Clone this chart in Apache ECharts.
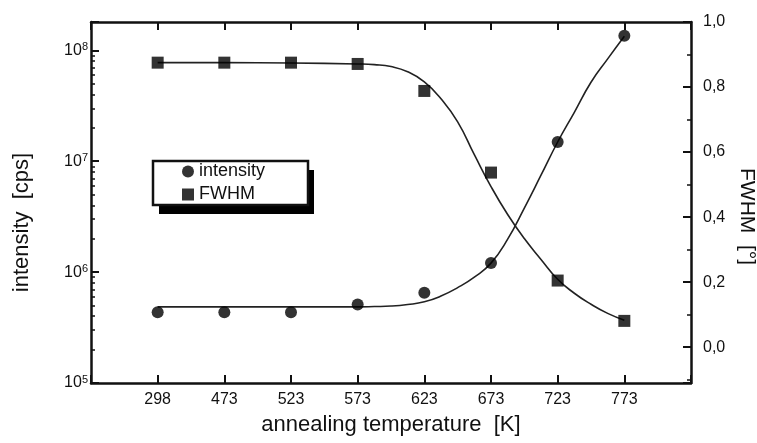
<!DOCTYPE html>
<html>
<head>
<meta charset="utf-8">
<style>
html,body{margin:0;padding:0;background:#fff;}
#chart{width:757px;height:443px;}
</style>
<script src="https://cdn.jsdelivr.net/npm/echarts@6/dist/echarts.min.js"></script>
</head>
<body>
<div id="chart"></div>
<script>
// ---- data ----
const temps = ['298', '473', '523', '573', '623', '673', '723', '773'];
const intensity = [4.35e5, 4.35e5, 4.35e5, 5.1e5, 6.5e5, 1.21e6, 1.49e7, 1.35e8];
const fwhm = [0.875, 0.875, 0.875, 0.871, 0.788, 0.537, 0.205, 0.081];

// fitted curves (x = category position 1..8)
const intensityFitX = [1, 2, 3, 4, 4.25, 4.5, 4.75, 5, 5.25, 5.5, 5.75, 6, 6.25, 6.5, 6.75, 7, 7.25, 7.5, 7.75, 8];
const intensityFitY = [4.86e5, 4.86e5, 4.86e5, 4.86e5, 4.89e5, 4.94e5, 5.10e5, 5.40e5, 6.08e5, 7.24e5, 9.01e5, 1.205e6, 1.98e6, 3.78e6, 7.48e6, 1.49e7, 2.76e7, 5.15e7, 8.37e7, 1.34e8];
const fwhmFitX = [1, 2, 3, 4, 4.25, 4.5, 4.75, 5, 5.25, 5.5, 5.75, 6, 6.25, 6.5, 6.75, 7, 7.25, 7.5, 7.75, 8];
const fwhmFitY = [0.875, 0.875, 0.874, 0.871, 0.869, 0.863, 0.847, 0.816, 0.764, 0.693, 0.592, 0.494, 0.408, 0.334, 0.270, 0.209, 0.166, 0.132, 0.104, 0.083];

const legendNames = ['intensity', 'FWHM'];
const xTitle = 'annealing temperature  [K]';
const yLeftTitle = 'intensity  [cps]';
const yRightTitle = 'FWHM  [\u00B0]';

const FONT = "'Liberation Sans', Arial, Helvetica, sans-serif";
const INK = '#111';

const chart = echarts.init(document.getElementById('chart'), null, {renderer: 'canvas'});

const pts = (xs, ys) => xs.map((x, i) => [x, ys[i]]);
const catPts = (ys) => ys.map((y, i) => [i + 1, y]);

const axisLine = {show: true, onZero: false, lineStyle: {color: INK, width: 2.5}};
const majorTick = {show: true, inside: true, length: 8, lineStyle: {color: INK, width: 2}};

const option = {
  backgroundColor: '#fff',
  animation: false,
  grid: {left: 91, right: 66, top: 22, bottom: 60, containLabel: false, outerBoundsMode: 'none'},
  graphic: [
    // legend frame with its drop shadow
    {type: 'rect', z: 1, shape: {x: 159, y: 170, width: 155, height: 44}, style: {fill: '#000'}},
    {type: 'rect', z: 1, shape: {x: 153, y: 161, width: 155, height: 44}, style: {fill: '#fff', stroke: INK, lineWidth: 2.5}}
  ],
  legend: {
    data: [
      {name: legendNames[0], icon: 'circle'},
      {name: legendNames[1], icon: 'rect'}
    ],
    orient: 'vertical',
    left: 182, top: 160, z: 10,
    itemWidth: 12, itemHeight: 12,
    itemGap: 0,
    itemTextGap: 23,
    padding: 0,
    textStyle: {fontFamily: FONT, fontSize: 18, color: INK, lineHeight: 23},
    selectedMode: false
  },
  xAxis: [
    {
      type: 'value', min: 0, max: 9, interval: 1, position: 'bottom',
      axisLine: axisLine,
      axisTick: majorTick,
      splitLine: {show: false},
      axisLabel: {
        margin: 9, fontFamily: FONT, fontSize: 16, color: INK,
        formatter: v => (v >= 1 && v <= temps.length) ? temps[v - 1] : ''
      },
      name: xTitle, nameLocation: 'middle', nameGap: 31,
      nameTextStyle: {fontFamily: FONT, fontSize: 22, color: INK}
    },
    {
      type: 'value', min: 0, max: 9, interval: 1, position: 'top',
      axisLine: axisLine,
      axisTick: majorTick,
      splitLine: {show: false},
      axisLabel: {show: false}
    }
  ],
  yAxis: [
    {
      type: 'log', logBase: 10, min: 1e5, max: 1.8e8, position: 'left',
      axisLine: axisLine,
      axisTick: majorTick,
      minorTick: {show: true, splitNumber: 9, length: 4, lineStyle: {color: INK, width: 1.5}},
      splitLine: {show: false},
      minorSplitLine: {show: false},
      axisLabel: {
        margin: 3, color: INK,
        formatter: v => {
          const e = Math.log10(v);
          if (Math.abs(e - Math.round(e)) > 1e-6) return '';
          return '{b|10}{s|' + Math.round(e) + '}';
        },
        rich: {
          b: {fontFamily: FONT, fontSize: 16, color: INK},
          s: {fontFamily: FONT, fontSize: 11, color: INK, verticalAlign: 'top', padding: [0, 0, 7, 0]}
        }
      },
      name: yLeftTitle, nameLocation: 'middle', nameGap: 58,
      nameTextStyle: {fontFamily: FONT, fontSize: 22, color: INK, padding: [0, 40, 0, 0]}
    },
    {
      type: 'value', min: -0.11, max: 1.0, splitNumber: 5, position: 'right',
      axisLine: axisLine,
      axisTick: majorTick,
      minorTick: {show: true, splitNumber: 2, length: 4, lineStyle: {color: INK, width: 1.5}},
      splitLine: {show: false},
      minorSplitLine: {show: false},
      axisLabel: {
        margin: 12, fontFamily: FONT, fontSize: 16, color: INK,
        formatter: v => v < -1e-9 ? '' : v.toFixed(1).replace('.', ',')
      },
      name: yRightTitle, nameLocation: 'middle', nameGap: 45, nameRotate: -90,
      nameTextStyle: {fontFamily: FONT, fontSize: 21, color: INK, padding: [0, 0, 0, 28]}
    }
  ],
  series: [
    {
      name: 'intensity fit', type: 'line', xAxisIndex: 0, yAxisIndex: 0,
      data: pts(intensityFitX, intensityFitY),
      smooth: 0.5, showSymbol: false, symbol: 'none',
      lineStyle: {color: '#222', width: 1.6}, z: 2, silent: true
    },
    {
      name: 'FWHM fit', type: 'line', xAxisIndex: 0, yAxisIndex: 1,
      data: pts(fwhmFitX, fwhmFitY),
      smooth: 0.5, showSymbol: false, symbol: 'none',
      lineStyle: {color: '#222', width: 1.6}, z: 2, silent: true
    },
    {
      name: legendNames[0], type: 'scatter', xAxisIndex: 0, yAxisIndex: 0,
      data: catPts(intensity),
      symbol: 'circle', symbolSize: 12,
      itemStyle: {color: '#000'}, z: 3
    },
    {
      name: legendNames[1], type: 'scatter', xAxisIndex: 0, yAxisIndex: 1,
      data: catPts(fwhm),
      symbol: 'rect', symbolSize: 12,
      itemStyle: {color: '#000'}, z: 3
    }
  ]
};

chart.setOption(option);
</script>
</body>
</html>
